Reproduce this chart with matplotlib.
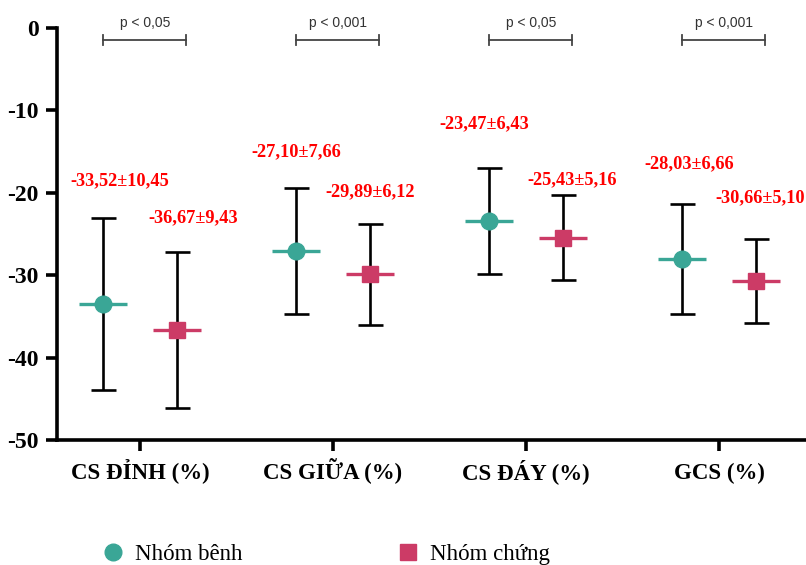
import matplotlib.pyplot as plt
from matplotlib.lines import Line2D
import numpy as np

plt.rcParams["axes.unicode_minus"] = False

categories = ["CS ĐỈNH (%)", "CS GIỮA (%)", "CS ĐÁY (%)", "GCS (%)"]
benh_mean = [-33.52, -27.10, -23.47, -28.03]
benh_sd = [10.45, 7.66, 6.43, 6.66]
chung_mean = [-36.67, -29.89, -25.43, -30.66]
chung_sd = [9.43, 6.12, 5.16, 5.10]
p_labels = ["p < 0,05", "p < 0,001", "p < 0,05", "p < 0,001"]

teal = "#3aa696"
pink = "#cc3b66"
serif = ["Liberation Serif", "DejaVu Serif"]

fig = plt.figure(figsize=(8.06, 5.65), dpi=100)
ax = fig.add_axes([0.0707, 0.2212, 0.9293, 0.7292])

x = np.arange(len(categories))
off = 0.19

for xs, m, s, c, mk in [(x - off, benh_mean, benh_sd, teal, "o"),
                        (x + off, chung_mean, chung_sd, pink, "s")]:
    ax.errorbar(xs, m, yerr=s, fmt="none", ecolor="black", elinewidth=1.9,
                capsize=9, capthick=1.9, zorder=2)
    ax.plot(xs, m, linestyle="none", marker="_", markersize=34, mew=2.4,
            color=c, zorder=3)
    ax.plot(xs, m, linestyle="none", marker=mk, markersize=12, color=c,
            zorder=4)

# red mean±sd labels (offsets in points from top of bar)
lab_off = [(12, 21), (12, 19), (0, 20), (0, 17), (-4, 26), (7, 5), (5, 23), (3, 23)]
k = 0
for i in range(len(categories)):
    for xs, m, s in [(x[i] - off, benh_mean[i], benh_sd[i]),
                     (x[i] + off, chung_mean[i], chung_sd[i])]:
        txt = f"{m:.2f}±{s:.2f}".replace(".", ",")
        ax.annotate(txt, (xs, m + s), xytext=lab_off[k], textcoords="offset points",
                    ha="center", va="bottom", color="red", fontsize=13.2,
                    fontweight="bold", family=serif)
        k += 1

# significance brackets
for i, p in enumerate(p_labels):
    x0, x1 = x[i] - 0.19, x[i] + 0.24
    ax.plot([x0, x1], [-1.45, -1.45], color="#444444", lw=1.3, clip_on=False)
    for xe in (x0, x1):
        ax.plot([xe, xe], [-0.9, -2.0], color="#444444", lw=1.3, clip_on=False)
    ax.text((x0 + x1) / 2, -0.3, p, ha="center", va="bottom", fontsize=10,
            color="#333333", family=["Liberation Sans", "DejaVu Sans"])

ax.set_ylim(-50, 0)
ax.set_xlim(-0.43, 3.45)
ax.set_yticks([0, -10, -20, -30, -40, -50])
ax.set_xticks(x)
ax.set_xticklabels(categories)
for lbl in ax.get_xticklabels():
    lbl.set_family(serif)
    lbl.set_fontweight("bold")
    lbl.set_fontsize(16.5)
    lbl.set_verticalalignment("baseline")
for lbl in ax.get_yticklabels():
    lbl.set_family(serif)
    lbl.set_fontweight("bold")
    lbl.set_fontsize(17)

ax.spines["top"].set_visible(False)
ax.spines["right"].set_visible(False)
ax.spines["left"].set_linewidth(2.6)
ax.spines["bottom"].set_linewidth(2.6)
ax.tick_params(axis="both", width=2.6, length=8, pad=5)
ax.tick_params(axis="x", pad=20)

handles = [Line2D([], [], linestyle="none", marker="o", markersize=12, color=teal),
           Line2D([], [], linestyle="none", marker="s", markersize=12, color=pink)]
fig.legend(handles, ["Nhóm bênh", "Nhóm chứng"], loc="center left",
           bbox_to_anchor=(0.109, 0.018), ncol=2, frameon=False,
           prop={"family": serif, "size": 16.5}, handletextpad=0.25,
           columnspacing=6.55, borderaxespad=0, handlelength=1.4)

fig.savefig("out.png", dpi=100)
